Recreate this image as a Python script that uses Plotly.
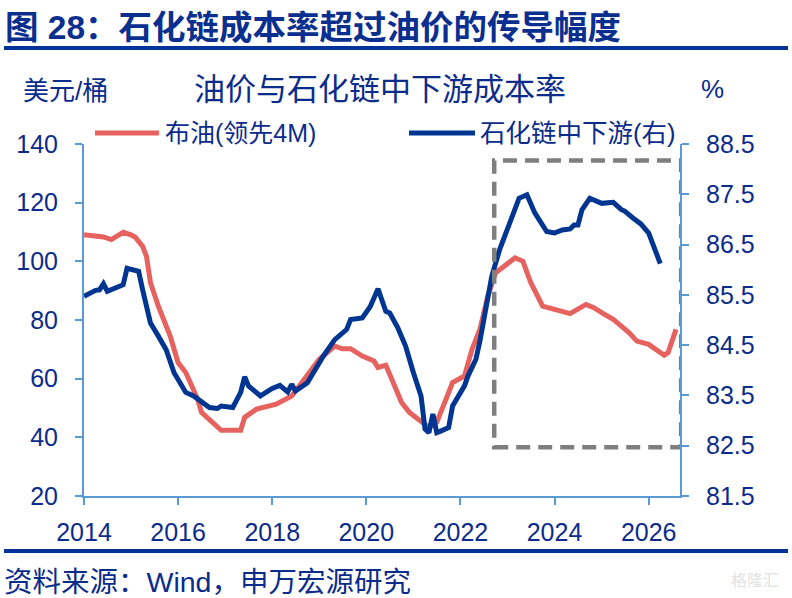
import plotly.graph_objects as go

# ---------------- data ----------------
brent_dates = [
    "2014-01", "2014-03", "2014-06", "2014-08", "2014-09", "2014-11",
    "2015-01", "2015-02", "2015-04", "2015-05", "2015-06", "2015-08", "2015-11",
    "2016-01", "2016-03", "2016-06", "2016-07", "2016-10", "2016-12",
    "2017-05", "2017-06", "2017-09",
    "2018-02", "2018-06", "2018-11",
    "2019-01", "2019-05", "2019-07", "2019-09", "2019-12",
    "2020-03", "2020-04", "2020-06", "2020-08", "2020-10", "2020-12",
    "2021-03", "2021-05", "2021-07", "2021-09", "2021-11",
    "2022-02", "2022-04", "2022-06", "2022-08", "2022-10",
    "2023-01", "2023-03", "2023-05", "2023-07", "2023-10",
    "2024-01", "2024-05", "2024-09", "2024-11",
    "2025-02", "2025-04", "2025-08", "2025-10",
    "2026-01", "2026-03", "2026-05", "2026-06", "2026-08",
]
brent_values = [
    109.1, 108.8, 108.3, 107.4, 108.2, 109.9,
    109.0, 108.3, 105.1, 101.7, 92.7, 84.7, 74.5,
    65.5, 62.1, 53.0, 48.5, 45.1, 42.4,
    42.4, 46.8, 49.6,
    51.3, 54.1, 63.2,
    66.6, 71.1, 70.2, 70.2, 67.7,
    66.0, 63.8, 64.6, 58.7, 51.9, 48.5,
    45.6, 43.4, 45.1, 51.9, 58.7,
    60.9, 70.0, 76.8, 88.1, 96.1,
    98.9, 101.2, 100.0, 92.7, 84.7,
    83.8, 82.2, 85.3, 84.2,
    81.7, 80.2, 75.7, 72.8,
    71.7, 70.0, 68.0, 68.9, 76.8,
]

chain_dates = [
    "2014-01", "2014-04", "2014-05", "2014-06", "2014-07", "2014-10", "2014-11", "2014-12",
    "2015-03", "2015-04", "2015-06", "2015-08", "2015-10", "2015-12",
    "2016-03", "2016-05", "2016-09", "2016-11", "2016-12",
    "2017-03", "2017-05", "2017-06", "2017-07", "2017-10",
    "2018-01", "2018-03", "2018-05", "2018-06", "2018-07", "2018-10",
    "2019-02", "2019-05", "2019-08", "2019-09", "2019-12",
    "2020-02", "2020-04", "2020-06", "2020-07", "2020-09", "2020-11",
    "2021-01", "2021-03", "2021-04", "2021-05", "2021-06", "2021-07", "2021-08", "2021-10", "2021-11",
    "2022-02", "2022-03", "2022-05", "2022-06", "2022-07", "2022-09", "2022-11",
    "2023-02", "2023-04", "2023-06", "2023-08", "2023-11",
    "2024-01", "2024-03", "2024-05", "2024-06", "2024-07", "2024-08", "2024-10",
    "2025-01", "2025-04", "2025-06", "2025-07", "2025-09", "2025-11",
    "2026-01", "2026-03", "2026-04",
]
chain_values = [
    85.47, 85.59, 85.60, 85.72, 85.57, 85.67, 85.70, 86.03,
    85.97, 85.60, 84.94, 84.68, 84.41, 83.95,
    83.56, 83.49, 83.26, 83.24, 83.29,
    83.26, 83.56, 83.87, 83.69, 83.49,
    83.64, 83.70, 83.57, 83.72, 83.59, 83.75,
    84.28, 84.61, 84.81, 85.01, 85.04,
    85.27, 85.62, 85.17, 85.14, 84.85, 84.48,
    83.95, 83.49, 82.83, 82.76, 83.13, 82.76, 82.79, 82.86, 83.29,
    83.69, 83.89, 84.22, 84.58, 85.01, 85.87, 86.40,
    87.06, 87.42, 87.49, 87.13, 86.76,
    86.73, 86.79, 86.81, 86.89, 86.89, 87.19, 87.42,
    87.32, 87.34, 87.20, 87.16, 87.03, 86.91,
    86.73, 86.30, 86.12,
]

left_ticks = [20, 40, 60, 80, 100, 120, 140]
right_ticks = [81.5, 82.5, 83.5, 84.5, 85.5, 86.5, 87.5, 88.5]
year_ticks = ["2014-01-01", "2016-01-01", "2018-01-01", "2020-01-01",
              "2022-01-01", "2024-01-01", "2026-01-01"]
year_labels = ["2014", "2016", "2018", "2020", "2022", "2024", "2026"]

# ---------------- styling ----------------
W, H = 792, 598
ML, MR, MT, MB = 84, 112, 144, 102
PW, PH = W - ML - MR, H - MT - MB

def px(x):
    return (x - ML) / PW

def py(y):
    return (H - MB - y) / PH

NAVY = "#0b2c8a"
AXIS = "#5b9bd5"
RED = "#e5625f"
BLUE = "#003591"
FONT = "Liberation Sans, Arial, Noto Sans CJK SC, sans-serif"

fig = go.Figure()
fig.add_trace(go.Scatter(
    x=brent_dates, y=brent_values, name="布油(领先4M)", mode="lines",
    line=dict(color=RED, width=5), yaxis="y", showlegend=False))
fig.add_trace(go.Scatter(
    x=chain_dates, y=chain_values, name="石化链中下游(右)", mode="lines",
    line=dict(color=BLUE, width=5), yaxis="y2", showlegend=False))

axis_common = dict(
    showline=True, linecolor=AXIS, linewidth=2, ticks="outside",
    tickcolor=AXIS, tickwidth=2, ticklen=7, showgrid=False, zeroline=False,
    tickfont=dict(family=FONT, size=25, color=NAVY),
)

fig.update_layout(
    width=W, height=H,
    margin=dict(l=ML, r=MR, t=MT, b=MB, pad=0),
    paper_bgcolor="white", plot_bgcolor="white",
    font=dict(family=FONT, color=NAVY),
    xaxis=dict(type="date", range=["2014-01-01", "2026-09-01"],
               tickvals=year_ticks, ticktext=year_labels,
               ticklabelstandoff=6, **axis_common),
    yaxis=dict(range=[20, 140], tickvals=left_ticks,
               ticklabelstandoff=12, **axis_common),
    yaxis2=dict(range=[81.5, 88.5], tickvals=right_ticks, tickformat=".1f",
                overlaying="y", side="right", ticklabelstandoff=12,
                **axis_common),
)

shapes = [
    # rule under the figure title
    dict(type="line", xref="paper", yref="paper", x0=px(4), x1=px(788),
         y0=py(48), y1=py(48), line=dict(color="#003399", width=4)),
    # rule above the source line
    dict(type="line", xref="paper", yref="paper", x0=px(4), x1=px(788),
         y0=py(551), y1=py(551), line=dict(color="#003399", width=4)),
    # legend samples
    dict(type="line", xref="paper", yref="paper", x0=px(95), x1=px(159),
         y0=py(133), y1=py(133), line=dict(color=RED, width=5)),
    dict(type="line", xref="paper", yref="paper", x0=px(409), x1=px(475),
         y0=py(133), y1=py(133), line=dict(color=BLUE, width=5)),
    # dashed highlight box
    dict(type="rect", xref="x", yref="y", x0="2022-09-20", x1="2026-09-10",
         y0=36.6, y1=134.4, layer="above",
         line=dict(color="#7f7f7f", width=4.5, dash="14px,8px")),
]

def txt(text, x, y, size, xanchor="left", color=NAVY, bold=False):
    return dict(text=("<b>%s</b>" % text) if bold else text,
                xref="paper", yref="paper", x=px(x), y=py(y),
                xanchor=xanchor, yanchor="middle", showarrow=False,
                font=dict(family=FONT, size=size, color=color))

annotations = [
    txt("图 28：石化链成本率超过油价的传导幅度", 3, 27, 33.5, bold=True, color="#0a2f8f"),
    txt("油价与石化链中下游成本率", 380, 89, 31, xanchor="center"),
    txt("美元/桶", 21, 91, 26),
    txt("%", 712, 89, 26, xanchor="center"),
    txt("布油(领先4M)", 163, 133, 25),
    txt("石化链中下游(右)", 478, 133, 25.5),
    txt("资料来源：Wind，申万宏源研究", 2, 582, 28.5),
    txt("格隆汇", 755, 580, 16, xanchor="center", color="#e2e2e2"),
]

fig.update_layout(shapes=shapes, annotations=annotations)
fig.write_html("out.html",
               config={"displayModeBar": False},
               post_script="document.body.style.margin='0';"
                           "document.documentElement.style.overflow='hidden';")
